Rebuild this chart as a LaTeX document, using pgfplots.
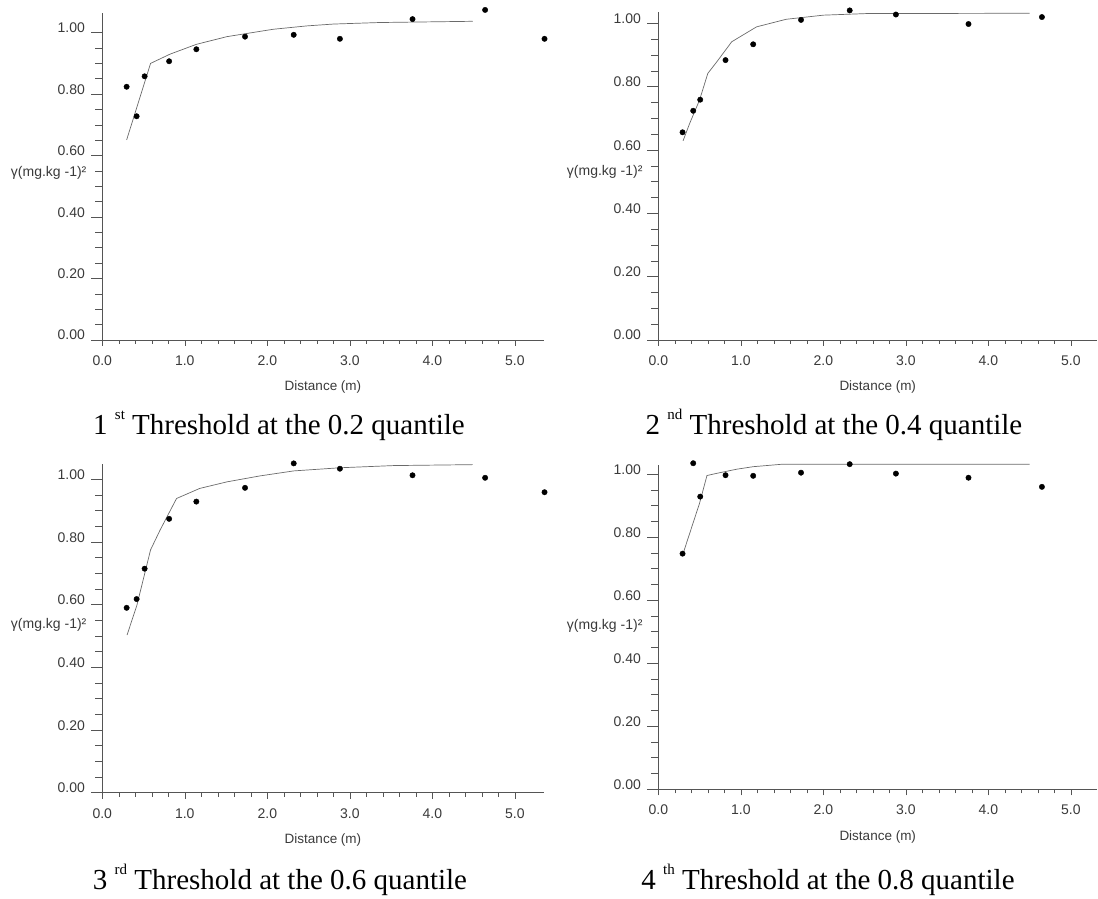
\documentclass[border=0pt]{standalone}
\usepackage{fontspec}
\setmainfont{Liberation Serif}
\newfontfamily\sansf{Liberation Sans}
\usepackage{pgfplots}
\pgfplotsset{compat=1.18}
\definecolor{axgray}{HTML}{555555}
\definecolor{txtgray}{HTML}{3A3A3A}
\definecolor{curvegray}{HTML}{6A6A6A}

\pgfplotsset{vario/.style={
  scale only axis, anchor=south west, clip=false,
  axis lines=left, axis line style={-, axgray, line width=0.6pt},
  xmin=0, ymin=0,
  xtick={0,1,2,3,4,5}, ytick={0,0.2,0.4,0.6,0.8,1.0},
  minor x tick num=4, minor y tick num=3,
  tick align=outside,
  every tick/.style={axgray, line width=0.6pt},
  xtick style={/pgfplots/major tick length=6pt, /pgfplots/minor tick length=4pt},
  ytick style={/pgfplots/major tick length=11pt, /pgfplots/minor tick length=7pt},
  /pgf/number format/assume math mode=true,
  tick label style={font=\sansf\fontsize{14}{14}\selectfont, text=txtgray},
  xticklabel style={/pgf/number format/fixed, /pgf/number format/fixed zerofill, /pgf/number format/precision=1, yshift=-8pt},
  yticklabel style={/pgf/number format/fixed, /pgf/number format/fixed zerofill, /pgf/number format/precision=2, anchor=base east, inner sep=1pt, xshift=-12pt},
  xlabel={Distance (m)},
  xlabel style={font=\sansf\fontsize{13.5}{14}\selectfont, text=txtgray, at={(axis description cs:0.5,0)}, anchor=base, yshift=-51pt},
}}
\newcommand{\ylab}[1]{\node[anchor=east, font=\sansf\fontsize{14}{14}\selectfont, text=txtgray, inner sep=0pt] at (axis cs:-0.19,#1) {γ(mg.kg -1)²};}
\newcommand{\ord}[1]{\raisebox{15pt}{\fontsize{15}{15}\selectfont #1}}

\begin{document}
\begin{tikzpicture}
\useasboundingbox (0pt,0pt) rectangle (1098pt,898pt);

% Panel 1
\begin{axis}[vario, at={(102.3pt,558pt)}, width=441.4pt, height=327pt, xmax=5.35, ymax=1.064]
\addplot[curvegray, line width=0.7pt, mark=none] coordinates {
(0.295,0.651) (0.585,0.900) (0.82,0.930) (1.14,0.962) (1.51,0.987) (2.07,1.011) (2.48,1.022) (2.8,1.028) (3.36,1.033) (4.49,1.037)};
\addplot[only marks, mark=*, mark size=2.7pt, black] coordinates {
(0.295,0.824) (0.416,0.728) (0.513,0.858) (0.81,0.907) (1.14,0.946) (1.73,0.987) (2.32,0.993) (2.88,0.980) (3.76,1.044) (4.64,1.074) (5.36,0.980)};
\ylab{0.545}
\end{axis}

% Panel 2
\begin{axis}[vario, at={(658.3pt,558pt)}, width=438.9pt, height=328pt, xmax=5.32, ymax=1.036]
\addplot[curvegray, line width=0.7pt, mark=none] coordinates {
(0.30,0.629) (0.38,0.684) (0.50,0.758) (0.60,0.842) (0.71,0.879) (0.89,0.942) (1.19,0.989) (1.55,1.013) (2.0,1.026) (2.52,1.031) (4.5,1.032)};
\addplot[only marks, mark=*, mark size=2.7pt, black] coordinates {
(0.294,0.656) (0.423,0.724) (0.508,0.759) (0.815,0.884) (1.15,0.934) (1.73,1.011) (2.32,1.041) (2.88,1.028) (3.76,0.998) (4.65,1.020)};
\ylab{0.53}
\end{axis}

% Panel 3
\begin{axis}[vario, at={(102.3pt,105.3pt)}, width=441.4pt, height=329pt, xmax=5.35, ymax=1.05]
\addplot[curvegray, line width=0.7pt, mark=none] coordinates {
(0.30,0.503) (0.42,0.599) (0.585,0.775) (0.70,0.838) (0.90,0.939) (1.18,0.971) (1.51,0.992) (1.91,1.011) (2.32,1.027) (2.88,1.037) (3.53,1.044) (4.49,1.047)};
\addplot[only marks, mark=*, mark size=2.7pt, black] coordinates {
(0.295,0.590) (0.416,0.618) (0.513,0.715) (0.81,0.874) (1.14,0.929) (1.73,0.973) (2.32,1.051) (2.88,1.034) (3.76,1.013) (4.64,1.005) (5.36,0.959)};
\ylab{0.535}
\end{axis}

% Panel 4
\begin{axis}[vario, at={(658.3pt,108.7pt)}, width=438.9pt, height=324.5pt, xmax=5.32, ymax=1.03]
\addplot[curvegray, line width=0.7pt, mark=none] coordinates {
(0.30,0.748) (0.5,0.908) (0.59,0.996) (0.71,1.003) (0.95,1.016) (1.15,1.024) (1.51,1.032) (4.5,1.032)};
\addplot[only marks, mark=*, mark size=2.7pt, black] coordinates {
(0.294,0.748) (0.423,1.035) (0.508,0.929) (0.815,0.997) (1.15,0.995) (1.73,1.005) (2.32,1.032) (2.88,1.002) (3.76,0.989) (4.65,0.960)};
\ylab{0.52}
\end{axis}

% Captions
\node[anchor=base, font=\fontsize{29}{32}\selectfont, inner sep=0pt] at (279pt,463pt) {1 \ord{st} Threshold at the 0.2 quantile};
\node[anchor=base, font=\fontsize{29}{32}\selectfont, inner sep=0pt] at (834pt,463pt) {2 \ord{nd} Threshold at the 0.4 quantile};
\node[anchor=base, font=\fontsize{29}{32}\selectfont, inner sep=0pt] at (280pt,9pt) {3 \ord{rd} Threshold at the 0.6 quantile};
\node[anchor=base, font=\fontsize{29}{32}\selectfont, inner sep=0pt] at (828pt,9pt) {4 \ord{th} Threshold at the 0.8 quantile};
\end{tikzpicture}
\end{document}
